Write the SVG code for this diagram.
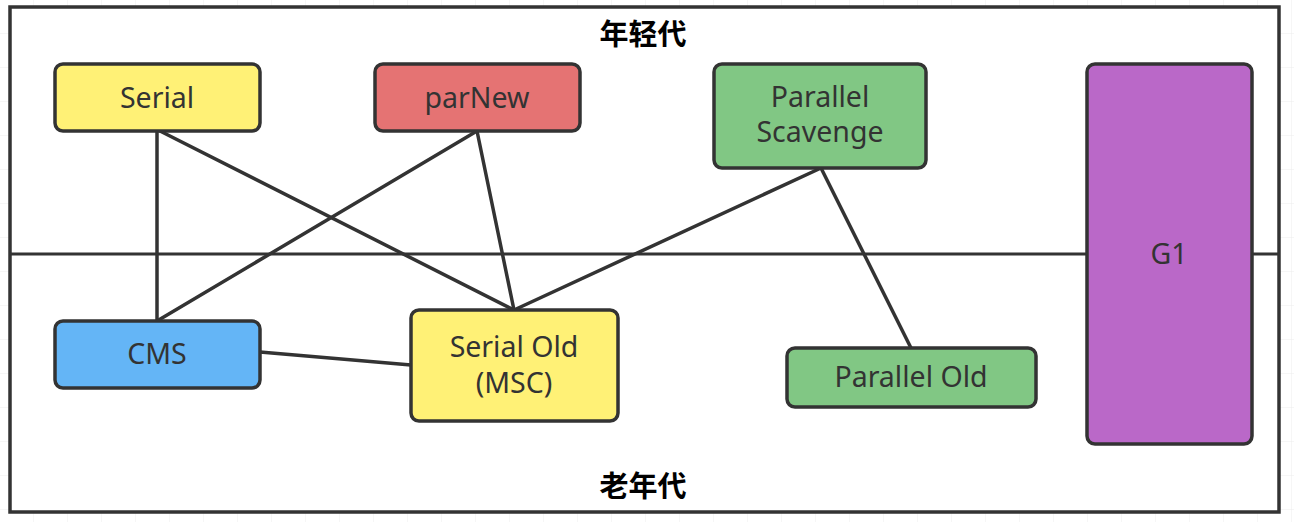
<svg xmlns="http://www.w3.org/2000/svg" width="1294" height="522" viewBox="0 0 1294 522">
<style>
.node rect{stroke:#333;stroke-width:3.5}
.lbl{font-family:"Noto Sans","Open Sans","Liberation Sans",sans-serif;font-size:28.5px;fill:#333;text-anchor:middle;dominant-baseline:central}
.title{font-family:"Noto Sans CJK SC","Noto Sans",sans-serif;font-size:29px;font-weight:bold;fill:#000;text-anchor:middle}
#connectors line{stroke:#333;stroke-width:3.5;stroke-linecap:round}
</style>
<defs>
<pattern id="grid" width="34" height="34" patternUnits="userSpaceOnUse">
<path d="M34 0V34M0 34H34" fill="none" stroke="#ececec" stroke-width="1"/>
</pattern>
</defs>
<rect width="1294" height="522" fill="#fff"/>
<rect width="1294" height="522" fill="url(#grid)"/>
<g id="frame">
<rect x="10" y="7" width="1269" height="505" fill="#fff" stroke="#333" stroke-width="3.5"/>
<line x1="10" y1="254" x2="1279" y2="254" stroke="#333" stroke-width="3"/>
<text class="title" x="643" y="45">年轻代</text>
<text class="title" x="643" y="497">老年代</text>
</g>
<g id="connectors">
<line x1="157" y1="131" x2="157" y2="321"/>
<line x1="160" y1="131" x2="514" y2="310"/>
<line x1="477" y1="131" x2="157" y2="321"/>
<line x1="477" y1="131" x2="514" y2="310"/>
<line x1="821" y1="168" x2="514" y2="310"/>
<line x1="821" y1="168" x2="911" y2="348"/>
<line x1="260" y1="352" x2="411" y2="365"/>
</g>
<g id="serial" class="node"><rect x="55" y="64" width="205" height="67" rx="8" fill="#fff176"/><text class="lbl" x="157" y="97">Serial</text></g>
<g id="parnew" class="node"><rect x="375" y="64" width="205" height="67" rx="8" fill="#e57373"/><text class="lbl" x="477" y="97">parNew</text></g>
<g id="parallel-scavenge" class="node"><rect x="714" y="64" width="212" height="104" rx="8" fill="#81c784"/><text class="lbl" x="820" y="96">Parallel</text><text class="lbl" x="820" y="131">Scavenge</text></g>
<g id="g1" class="node"><rect x="1087" y="64" width="165" height="380" rx="8" fill="#ba68c8"/><text class="lbl" x="1169" y="253">G1</text></g>
<g id="cms" class="node"><rect x="55" y="321" width="205" height="67" rx="8" fill="#64b5f6"/><text class="lbl" x="157" y="353">CMS</text></g>
<g id="serial-old" class="node"><rect x="411" y="310" width="207" height="111" rx="8" fill="#fff176"/><text class="lbl" x="514" y="346">Serial Old</text><text class="lbl" x="514" y="382">(MSC)</text></g>
<g id="parallel-old" class="node"><rect x="787" y="348" width="249" height="59" rx="8" fill="#81c784"/><text class="lbl" x="911" y="376">Parallel Old</text></g>
</svg>
